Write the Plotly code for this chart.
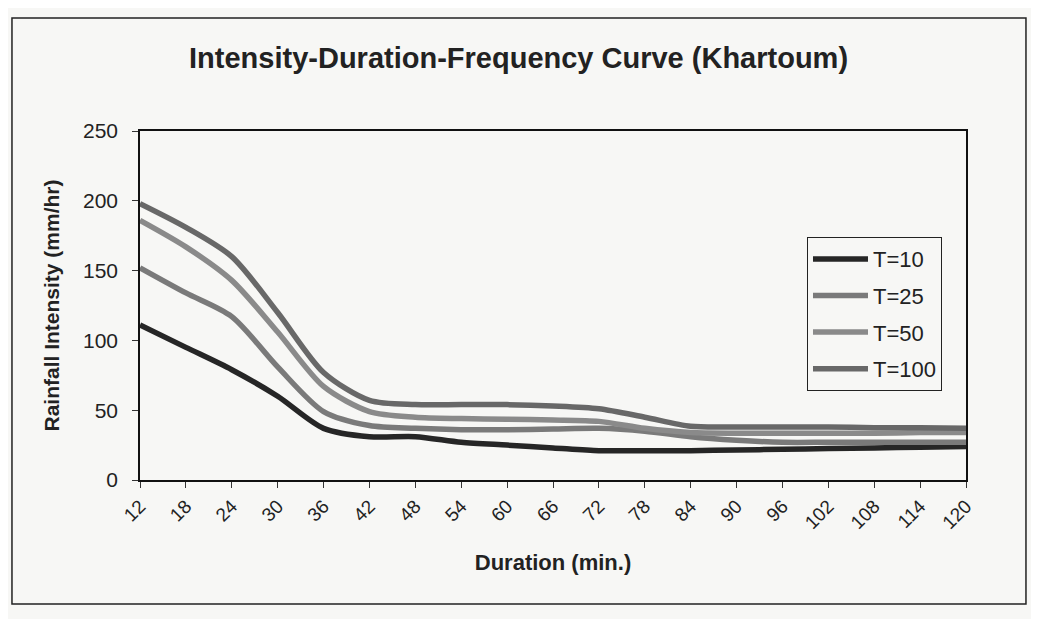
import plotly.graph_objects as go

durations = [12, 18, 24, 30, 36, 42, 48, 54, 60, 66, 72, 78, 84, 90, 96, 102, 108, 114, 120]
t10 = [111, 95, 79, 60, 37, 31, 31, 27, 25, 23, 21, 21, 21, 21.5, 22, 22.5, 23, 23.5, 24]
t25 = [152, 134, 117, 81, 49, 39, 37, 36, 36, 36.5, 37, 35, 31, 28.5, 27, 27, 27, 27, 27]
t50 = [186, 167, 143, 106, 67, 49, 45, 44, 43.5, 43, 42, 37, 34, 33.5, 33.5, 33.5, 33.5, 34, 34]
t100 = [198, 181, 160, 120, 77, 57, 54, 54, 54, 53, 51, 45, 38.5, 38, 38, 38, 37.5, 37.5, 37]
series_names = ["T=10", "T=25", "T=50", "T=100"]
series_colors = ["#262626", "#7a7a7a", "#8a8a8a", "#686868"]
y_ticks = [0, 50, 100, 150, 200, 250]

fig = go.Figure()
for name, vals, col in zip(series_names, [t10, t25, t50, t100], series_colors):
    fig.add_trace(go.Scatter(x=durations, y=vals, name=name, mode="lines",
                             line=dict(color=col, width=5.5, shape="spline", smoothing=0.8),
                             legendgroup=name))

bg = "#f7f7f5"
fig.update_layout(
    width=1031, height=611,
    margin=dict(l=132, r=73, t=123, b=139),
    paper_bgcolor=bg, plot_bgcolor=bg,
    font=dict(family="Liberation Sans, Arial, sans-serif", color="#1a1a1a"),
    title=dict(text="<b>Intensity-Duration-Frequency Curve (Khartoum)</b>",
               x=0.4952, xanchor="center", xref="container", y=0.918, yref="container", yanchor="middle",
               font=dict(size=29, color="#222")),
    xaxis=dict(range=[12, 120], tickvals=durations, ticktext=[str(d) for d in durations],
               tickangle=-45, showgrid=False, zeroline=False,
               showline=True, linecolor="#111", linewidth=1.5, mirror=True,
               ticks="outside", ticklen=6, tickcolor="#333",
               tickfont=dict(size=19, color="#222"),
               title=dict(text="<b>Duration (min.)</b>", font=dict(size=22, color="#222"), standoff=23)),
    yaxis=dict(range=[0, 250], tickvals=y_ticks, showgrid=False, zeroline=False,
               showline=True, linecolor="#111", linewidth=1.5, mirror=True,
               ticks="outside", ticklen=6, tickcolor="#333", ticklabelstandoff=10,
               tickfont=dict(size=21, color="#222"),
               title=dict(text="<b>Rainfall Intensity (mm/hr)</b>", font=dict(size=21, color="#222"), standoff=18)),
    legend=dict(x=0.8075, y=0.696, xanchor="left", yanchor="top",
                bgcolor=bg, bordercolor="#222", borderwidth=1,
                font=dict(size=22, color="#222"), tracegroupgap=5,
                traceorder="grouped", itemwidth=55),
    showlegend=True,
)

fig.add_shape(type="rect", xref="paper", yref="paper",
              x0=-0.155, x1=1.0726, y0=-0.3553, y1=1.3238,
              line=dict(color="#222", width=1.5), fillcolor="rgba(0,0,0,0)", layer="below")

fig.write_html("out.html")
